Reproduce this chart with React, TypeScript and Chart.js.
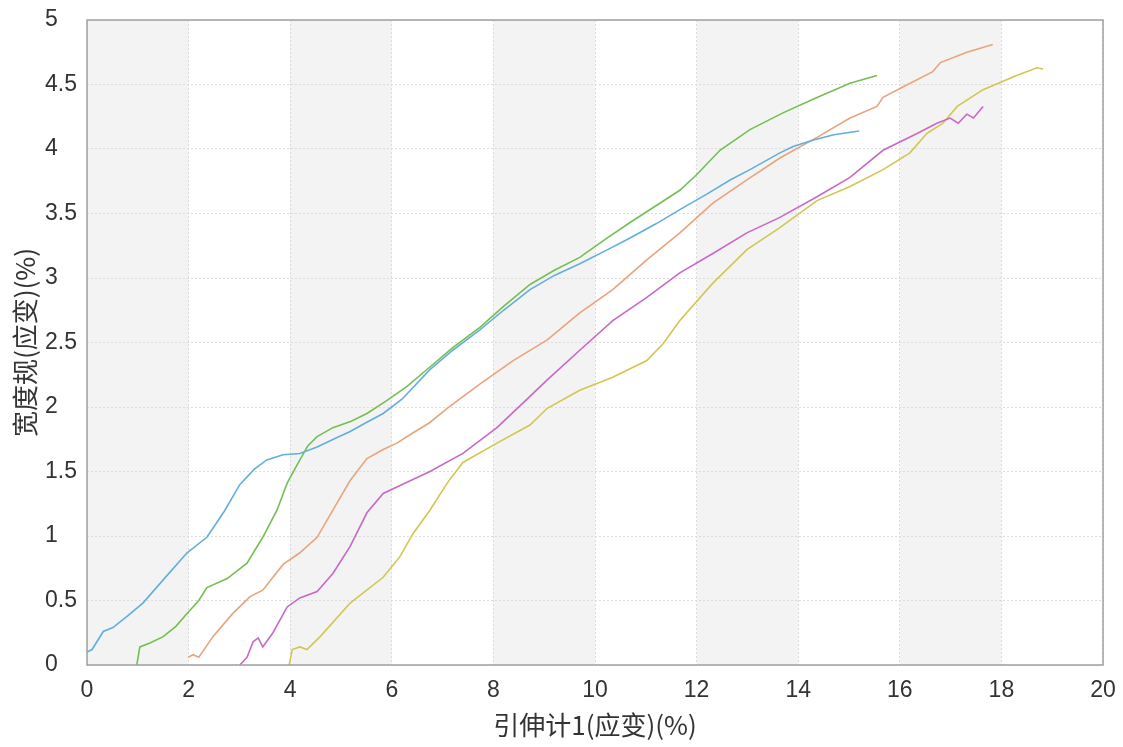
import React, { useEffect, useRef } from "react";
import { Chart, registerables } from "chart.js";

Chart.register(...registerables);

// ---- Data ----
const X_LABEL = "引伸计1(应变)(%)";
const Y_LABEL = "宽度规(应变)(%)";

const X_MIN = 0;
const X_MAX = 20;
const X_STEP = 2;
const Y_MIN = 0;
const Y_MAX = 5;
const Y_STEP = 0.5;

// shaded vertical bands (x-ranges)
const BAND_STARTS = [0, 4, 8, 12, 16];
const BAND_WIDTH = 2;

const blueX = [0, 0.1, 0.32, 0.51, 0.8, 1.1, 1.5, 1.97, 2.36, 2.7, 3.01, 3.3, 3.54, 3.86, 4.19, 4.53, 4.85, 5.18, 5.5, 5.83, 6.2, 6.75, 7.2, 7.74, 8.2, 8.72, 9.2, 9.7, 10.2, 10.69, 11.2, 11.67, 12.2, 12.66, 13.05, 13.64, 13.9, 14.3, 14.7, 15.2];
const blueY = [0.1, 0.12, 0.26, 0.29, 0.38, 0.48, 0.66, 0.87, 0.99, 1.19, 1.4, 1.52, 1.59, 1.63, 1.64, 1.69, 1.75, 1.81, 1.88, 1.95, 2.06, 2.29, 2.44, 2.6, 2.75, 2.91, 3.02, 3.11, 3.21, 3.31, 3.42, 3.53, 3.65, 3.76, 3.84, 3.97, 4.02, 4.07, 4.11, 4.14];

const greenX = [0.98, 1.04, 1.24, 1.5, 1.75, 1.97, 2.2, 2.36, 2.76, 3.15, 3.46, 3.74, 3.94, 4.19, 4.35, 4.53, 4.84, 5.2, 5.51, 5.9, 6.3, 6.75, 7.2, 7.74, 8.2, 8.72, 9.2, 9.7, 10.2, 10.69, 11.2, 11.67, 12.0, 12.46, 13.05, 13.7, 14.37, 15.02, 15.55];
const greenY = [0.0, 0.14, 0.17, 0.22, 0.3, 0.4, 0.5, 0.6, 0.67, 0.79, 0.99, 1.2, 1.41, 1.59, 1.7, 1.77, 1.84, 1.89, 1.95, 2.05, 2.16, 2.31, 2.46, 2.62, 2.78, 2.95, 3.06, 3.16, 3.3, 3.43, 3.56, 3.68, 3.8, 3.99, 4.15, 4.28, 4.4, 4.51, 4.57];

const orangeX = [1.99, 2.09, 2.2, 2.48, 2.87, 3.21, 3.46, 3.86, 4.19, 4.53, 4.84, 5.18, 5.51, 5.83, 6.1, 6.42, 6.75, 7.09, 7.4, 7.74, 8.39, 9.06, 9.7, 10.35, 11.02, 11.67, 12.32, 12.99, 13.64, 14.37, 15.02, 15.55, 15.67, 16.06, 16.65, 16.8, 17.32, 17.83];
const orangeY = [0.06, 0.08, 0.06, 0.22, 0.4, 0.53, 0.58, 0.78, 0.87, 0.99, 1.2, 1.43, 1.6, 1.67, 1.72, 1.8, 1.88, 1.99, 2.08, 2.18, 2.36, 2.52, 2.73, 2.91, 3.14, 3.35, 3.58, 3.76, 3.93, 4.09, 4.24, 4.33, 4.4, 4.48, 4.6, 4.67, 4.75, 4.81];

const magentaX = [3.01, 3.15, 3.27, 3.37, 3.46, 3.66, 3.94, 4.19, 4.53, 4.84, 5.18, 5.51, 5.83, 6.1, 6.75, 7.4, 8.07, 8.58, 9.06, 9.7, 10.35, 11.02, 11.67, 12.32, 12.99, 13.64, 14.37, 15.02, 15.67, 16.34, 16.73, 16.99, 17.15, 17.32, 17.45, 17.64];
const magentaY = [0.0, 0.06, 0.18, 0.21, 0.14, 0.25, 0.45, 0.52, 0.57, 0.71, 0.92, 1.18, 1.33, 1.38, 1.5, 1.64, 1.84, 2.03, 2.21, 2.44, 2.67, 2.85, 3.04, 3.19, 3.35, 3.47, 3.63, 3.78, 3.99, 4.12, 4.2, 4.24, 4.2, 4.27, 4.24, 4.33];

const yellowX = [3.98, 4.04, 4.19, 4.33, 4.59, 5.18, 5.83, 6.16, 6.42, 6.75, 7.09, 7.4, 8.07, 8.72, 9.06, 9.7, 10.35, 11.02, 11.34, 11.67, 12.32, 12.99, 13.64, 14.37, 15.02, 15.67, 16.2, 16.53, 16.85, 17.13, 17.64, 18.3, 18.7, 18.82];
const yellowY = [0.0, 0.12, 0.14, 0.12, 0.22, 0.48, 0.68, 0.84, 1.02, 1.2, 1.41, 1.57, 1.72, 1.86, 1.99, 2.13, 2.23, 2.36, 2.49, 2.67, 2.96, 3.22, 3.39, 3.6, 3.71, 3.84, 3.97, 4.12, 4.2, 4.33, 4.46, 4.57, 4.63, 4.62];

const SERIES = [
  { xs: blueX, ys: blueY, color: "#62aedc" },
  { xs: greenX, ys: greenY, color: "#74bf52" },
  { xs: orangeX, ys: orangeY, color: "#e8a47c" },
  { xs: magentaX, ys: magentaY, color: "#c968c6" },
  { xs: yellowX, ys: yellowY, color: "#d3c551" },
];

const TICK_FONT = "'Liberation Sans', Arial, sans-serif";
const CJK_FONT = "'Noto Sans CJK SC', 'Liberation Sans', sans-serif";

const bandsPlugin = {
  id: "bands",
  beforeDraw(chart: any) {
    const { ctx, chartArea, scales } = chart;
    const xs = scales.x;
    ctx.save();
    ctx.fillStyle = "#ffffff";
    ctx.fillRect(0, 0, chart.width, chart.height);
    ctx.fillStyle = "#f3f3f3";
    BAND_STARTS.forEach((b) => {
      const l = xs.getPixelForValue(b);
      const r = xs.getPixelForValue(b + BAND_WIDTH);
      ctx.fillRect(l, chartArea.top, r - l, chartArea.bottom - chartArea.top);
    });
    ctx.restore();
  },
  afterDraw(chart: any) {
    const { ctx, chartArea } = chart;
    ctx.save();
    ctx.strokeStyle = "#a0a0a0";
    ctx.lineWidth = 1.5;
    ctx.strokeRect(chartArea.left, chartArea.top, chartArea.right - chartArea.left, chartArea.bottom - chartArea.top);
    // y-axis title
    ctx.translate(25, (chartArea.top + chartArea.bottom) / 2);
    ctx.rotate(-Math.PI / 2);
    ctx.fillStyle = "#333333";
    ctx.font = `26px ${CJK_FONT}`;
    ctx.textAlign = "center";
    ctx.textBaseline = "middle";
    ctx.fillText(Y_LABEL, 0, 0);
    ctx.restore();
  },
};

export default function App() {
  const ref = useRef<HTMLCanvasElement | null>(null);

  useEffect(() => {
    if (!ref.current) return;
    const chart = new Chart(ref.current, {
      type: "scatter",
      data: {
        datasets: SERIES.map((s) => ({
          data: s.xs.map((x, i) => ({ x, y: s.ys[i] })),
          showLine: true,
          borderColor: s.color,
          backgroundColor: s.color,
          borderWidth: 1.6,
          pointRadius: 0,
          tension: 0,
        })),
      },
      options: {
        responsive: false,
        animation: false,
        layout: { padding: { left: 45, right: 20, top: 20, bottom: 0 } },
        plugins: {
          legend: { display: false },
          tooltip: { enabled: false },
        },
        scales: {
          x: {
            type: "linear",
            min: X_MIN,
            max: X_MAX,
            afterFit: (scale: any) => {
              scale.height = 82;
              scale.paddingRight = 0;
              scale.paddingLeft = 0;
            },
            ticks: {
              stepSize: X_STEP,
              color: "#333333",
              font: { family: TICK_FONT, size: 23 },
              padding: 12,
              maxRotation: 0,
              callback: (v: any) => String(v),
            },
            grid: {
              color: "#dcdcdc",
              lineWidth: 1,
              drawTicks: false,
            },
            border: { display: false, dash: [2, 2] },
            title: {
              display: true,
              text: X_LABEL,
              color: "#333333",
              font: { family: CJK_FONT, size: 26 },
              padding: { top: 0, bottom: 6 },
            },
          },
          y: {
            type: "linear",
            min: Y_MIN,
            max: Y_MAX,
            afterFit: (scale: any) => {
              scale.width = 42;
              scale.paddingTop = 0;
              scale.paddingBottom = 0;
            },
            ticks: {
              stepSize: Y_STEP,
              color: "#333333",
              font: { family: TICK_FONT, size: 23 },
              crossAlign: "far",
              padding: 6,
              callback: (v: any) => String(Number(v)),
            },
            grid: {
              color: "#dcdcdc",
              lineWidth: 1,
              drawTicks: false,
            },
            border: { display: false, dash: [2, 2] },
          },
        },
      },
      plugins: [bandsPlugin],
    } as any);
    return () => chart.destroy();
  }, []);

  return (
    <div style={{ position: "fixed", left: 0, top: 0, width: 1123, height: 747, background: "#fff" }}>
      <canvas ref={ref} width={1123} height={747} />
    </div>
  );
}
